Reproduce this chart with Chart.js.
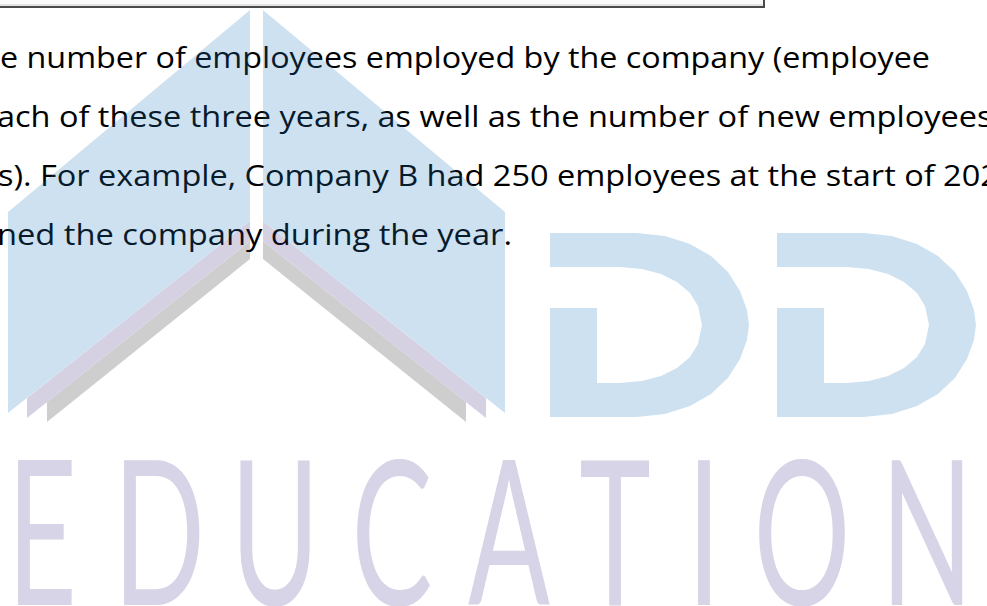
<!DOCTYPE html>
<html>
<head>
<meta charset="utf-8">
<script src="https://cdn.jsdelivr.net/npm/chart.js@4.4.0/dist/chart.umd.min.js"></script>
<style>
  html, body { margin:0; padding:0; background:#fff; }
  body { width:987px; height:606px; overflow:hidden; position:relative; font-family:"Open Sans", sans-serif; }
  #box { position:absolute; left:-2px; top:-40px; width:767px; height:48px; box-sizing:border-box; border:2px solid #4a4a4a; background:#fafafa; box-shadow: inset 0 -2px 0 #e2e2e2; }
  .line { position:absolute; white-space:nowrap; color:#000; line-height:1; transform-origin:0 0; }
  #brand { position:absolute; left:0; top:0; width:987px; height:606px; color:#d6d4e6; font-family:Lato, sans-serif; }
  #brand span { position:absolute; line-height:1; font-size:202px; transform:translateX(-50%) scaleX(0.6); }
  #logo { position:absolute; left:0; top:0; opacity:0.22; }
</style>
</head>
<body>
<div id="box"></div>
<div id="brand"></div>
<div id="text"></div>
<canvas id="logo" width="987" height="606"></canvas>
<script>
// texte qe dalin ne foto (faqja eshte e prere nga e majta)
const textLines = [
  'e number of employees employed by the company (employee',
  'ach of these three years, as well as the number of new employees',
  's). For example, Company B had 250 employees at the start of 202',
  'ned the company during the year.'
];
const brandLetters = ['E', 'D', 'U', 'C', 'A', 'T', 'I', 'O', 'N'];

// kulmet e formave te logos, te lexuara nga fotoja
const wingLeftX = [250, 250, 8, 8];
const wingLeftY = [10, 221, 413, 212];
const wingRightX = [263, 263, 505, 505];
const wingRightY = [10, 221, 413, 212];
const shadeLeftX = [250, 250, 27, 27];
const shadeLeftY = [221, 241, 418, 398];
const shadeRightX = [263, 263, 486, 486];
const shadeRightY = [221, 241, 418, 398];
const greyLeftX = [250, 250, 47, 47];
const greyLeftY = [241, 259, 422, 402];
const greyRightX = [263, 263, 466, 466];
const greyRightY = [241, 259, 422, 402];

const d1OuterX = [550, 637, 665, 690, 711, 728, 740, 747, 749, 747, 740, 728, 711, 690, 665, 637, 550];
const d1OuterY = [233, 233, 236, 244, 256, 272, 291, 310, 325, 340, 359, 378, 394, 406, 414, 417, 417];
const d1HoleX = [546, 620, 642, 661, 677, 690, 698, 702, 698, 690, 677, 661, 642, 620, 597, 597, 546];
const d1HoleY = [267, 267, 269, 274, 282, 293, 306, 325, 344, 357, 368, 376, 381, 383, 383, 308, 308];
const d2OuterX = [777, 864, 892, 917, 938, 955, 967, 974, 976, 974, 967, 955, 938, 917, 892, 864, 777];
const d2OuterY = d1OuterY;
const d2HoleX = [773, 847, 869, 888, 904, 917, 925, 929, 925, 917, 904, 888, 869, 847, 824, 824, 773];
const d2HoleY = d1HoleY;

// vendosja ne faqe
const fontSize = 30;
const lineBaselines = [69, 128, 187, 246];
const lineStarts = [0, -3, -2, -3];
const lineEnds = [930, 1000, 998, 512];
const brandCenters = [42, 159, 275, 392, 509, 615, 704, 802, 927];
const brandBaseline = 605;

// ngjyrat (kanavaca ka opacity 0.22 qe te duket si watermark)
const blue = 'rgb(37,123,196)';
const lilac = 'rgb(69,50,132)';
const grey = 'rgb(37,37,37)';

// ngushtimi i tekstit qe rreshtat te kene gjeresine e fotos
var measure = document.createElement('canvas').getContext('2d');
measure.font = fontSize + 'px "Open Sans"';
var s1 = (lineEnds[0] - lineStarts[0]) / measure.measureText(textLines[0]).width;
var s4 = (lineEnds[3] - lineStarts[3]) / measure.measureText(textLines[3]).width;
var squeeze = [s1, (s1 + s4) / 2, (s1 + s4) / 2, s4];

var textDiv = document.getElementById('text');
textLines.forEach(function(t, i){
  var d = document.createElement('div');
  d.className = 'line';
  d.textContent = t;
  d.style.fontSize = fontSize + 'px';
  d.style.left = lineStarts[i] + 'px';
  d.style.top = (lineBaselines[i] - 0.888 * fontSize) + 'px';
  d.style.transform = 'scaleX(' + squeeze[i] + ')';
  textDiv.appendChild(d);
});

var brand = document.getElementById('brand');
brandLetters.forEach(function(l, i){
  var s = document.createElement('span');
  s.textContent = l;
  s.style.left = brandCenters[i] + 'px';
  s.style.top = (brandBaseline - 0.887 * 202) + 'px';
  brand.appendChild(s);
});

function poly(xs, ys){
  var pts = xs.map(function(x, i){ return {x: x, y: ys[i]}; });
  pts.push({x: xs[0], y: ys[0]});
  return pts;
}

function shape(xs, ys, color){
  return {
    data: poly(xs, ys),
    fill: 'shape',
    backgroundColor: color,
    borderColor: 'rgba(0,0,0,0)',
    borderWidth: 0,
    pointRadius: 0,
    tension: 0
  };
}

// dataset-i i pare vizatohet i fundit (siper)
const config = {
  type: 'line',
  data: {
    datasets: [
      shape(d1HoleX, d1HoleY, '#ffffff'),
      shape(d2HoleX, d2HoleY, '#ffffff'),
      shape(d1OuterX, d1OuterY, blue),
      shape(d2OuterX, d2OuterY, blue),
      shape(wingLeftX, wingLeftY, blue),
      shape(wingRightX, wingRightY, blue),
      shape(shadeLeftX, shadeLeftY, lilac),
      shape(shadeRightX, shadeRightY, lilac),
      shape(greyLeftX, greyLeftY, grey),
      shape(greyRightX, greyRightY, grey)
    ]
  },
  options: {
    responsive: false,
    animation: false,
    events: [],
    layout: { padding: 0 },
    scales: {
      x: { type: 'linear', min: 0, max: 987, display: false },
      y: { type: 'linear', min: 0, max: 606, reverse: true, display: false }
    },
    plugins: {
      legend: { display: false },
      tooltip: { enabled: false }
    }
  }
};

var logoChart = new Chart(document.getElementById('logo'), config);
</script>
</body>
</html>
